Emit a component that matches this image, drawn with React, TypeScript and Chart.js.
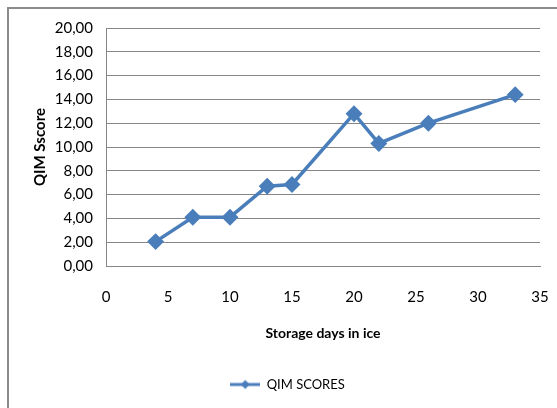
import React, { useEffect, useRef } from "react";
import { Chart, registerables } from "chart.js";

Chart.register(...registerables);

const storageDays = [4, 7, 10, 13, 15, 20, 22, 26, 33];
const qimScores = [2.05, 4.1, 4.1, 6.7, 6.85, 12.8, 10.3, 12.0, 14.4];
const seriesName = "QIM SCORES";
const xTitle = "Storage days in ice";
const yTitle = "QIM Sscore";

const BLUE = "#4A7EBB";
const GRID = "#868686";
const FONT = "Lato";

function makeLegendIcon(): HTMLCanvasElement {
  const c = document.createElement("canvas");
  c.width = 30;
  c.height = 12;
  const ctx = c.getContext("2d")!;
  ctx.strokeStyle = BLUE;
  ctx.lineWidth = 3;
  ctx.beginPath();
  ctx.moveTo(0, 6);
  ctx.lineTo(30, 6);
  ctx.stroke();
  ctx.fillStyle = BLUE;
  ctx.beginPath();
  ctx.moveTo(15, 1.5);
  ctx.lineTo(19.5, 6);
  ctx.lineTo(15, 10.5);
  ctx.lineTo(10.5, 6);
  ctx.closePath();
  ctx.fill();
  return c;
}

const frameBorder = {
  id: "frameBorder",
  beforeDraw(chart: any) {
    const ctx = chart.ctx;
    ctx.save();
    ctx.fillStyle = "#ffffff";
    ctx.fillRect(0, 0, chart.width, chart.height);
    ctx.strokeStyle = "#8c8c8c";
    ctx.lineWidth = 2;
    ctx.beginPath();
    ctx.moveTo(8, chart.height);
    ctx.lineTo(8, 8);
    ctx.lineTo(chart.width, 8);
    ctx.stroke();
    ctx.restore();
  },
};

export default function App() {
  const ref = useRef<HTMLCanvasElement | null>(null);
  useEffect(() => {
    document.body.style.margin = "0";
    const icon = makeLegendIcon();
    const chart = new Chart(ref.current!, {
      type: "line",
      data: {
        datasets: [
          {
            label: seriesName,
            data: storageDays.map((d, i) => ({ x: d, y: qimScores[i] })),
            borderColor: BLUE,
            backgroundColor: BLUE,
            borderWidth: 3.5,
            pointStyle: "rectRot",
            pointRadius: 6,
            pointBackgroundColor: BLUE,
            pointBorderColor: BLUE,
            tension: 0,
          },
        ],
      },
      options: {
        responsive: false,
        animation: false,
        layout: { padding: { top: 28, right: 17, bottom: 7, left: 35 } },
        plugins: {
          tooltip: { enabled: false },
          legend: {
            position: "bottom",
            labels: {
              usePointStyle: true,
              pointStyleWidth: 30,
              color: "#000",
              font: { family: FONT, size: 13 },
              padding: 10,
              generateLabels: () => [
                {
                  text: seriesName,
                  pointStyle: icon,
                  fillStyle: BLUE,
                  strokeStyle: BLUE,
                  lineWidth: 0,
                  hidden: false,
                  datasetIndex: 0,
                } as any,
              ],
            },
          },
        },
        scales: {
          x: {
            type: "linear",
            min: 0,
            max: 35,
            ticks: {
              stepSize: 5,
              color: "#000",
              font: { family: FONT, size: 15 },
              padding: 3,
              maxRotation: 0,
            },
            grid: {
              display: true,
              drawOnChartArea: false,
              drawTicks: true,
              tickLength: 19,
              tickColor: "rgba(0,0,0,0)",
            },
            border: { display: true, color: GRID, width: 1 },
            title: {
              display: true,
              text: xTitle,
              color: "#000",
              font: { family: FONT, size: 14, weight: "bold" },
              padding: { top: 0, bottom: 26 },
            },
            afterFit: (scale: any) => {
              scale.height = 102;
            },
          },
          y: {
            min: 0,
            max: 20,
            ticks: {
              stepSize: 2,
              color: "#000",
              font: { family: FONT, size: 15 },
              padding: 13,
              callback: (v: any) => Number(v).toFixed(2).replace(".", ","),
            },
            grid: { color: GRID, lineWidth: 1, drawTicks: false },
            border: { display: true, color: GRID, width: 1 },
            title: {
              display: true,
              text: yTitle,
              color: "#000",
              font: { family: FONT, size: 15, weight: "bold", lineHeight: 1 },
              padding: { top: -2.5, bottom: 0 },
            },
            afterFit: (scale: any) => {
              scale.width = 71;
            },
          },
        },
      },
      plugins: [frameBorder],
    });
    return () => chart.destroy();
  }, []);
  return (
    <div style={{ width: 557, height: 408 }}>
      <canvas ref={ref} width={557} height={408} style={{ display: "block" }} />
    </div>
  );
}
